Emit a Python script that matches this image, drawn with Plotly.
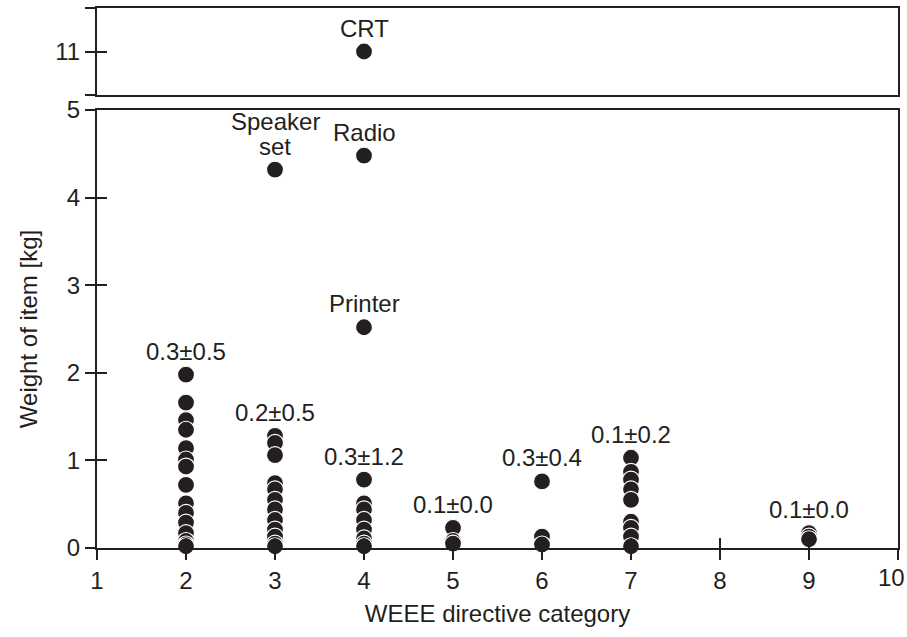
import plotly.graph_objects as go

# ---- data ----
categories = [2, 3, 4, 5, 6, 7, 9]
weights_cat2 = [1.98, 1.66, 1.46, 1.35, 1.14, 1.01, 0.93, 0.72, 0.51, 0.40, 0.29, 0.17, 0.08, 0.04, 0.02]
weights_cat3 = [1.28, 1.20, 1.06, 0.74, 0.67, 0.55, 0.44, 0.32, 0.21, 0.13, 0.05, 0.02]
weights_cat4 = [0.78, 0.51, 0.44, 0.32, 0.21, 0.11, 0.05, 0.02]
weights_cat5 = [0.23, 0.08, 0.05]
weights_cat6 = [0.76, 0.13, 0.04]
weights_cat7 = [1.03, 0.87, 0.78, 0.67, 0.55, 0.30, 0.23, 0.13, 0.02]
weights_cat9 = [0.17, 0.13, 0.10]
stat_labels = ["0.3±0.5", "0.2±0.5", "0.3±1.2", "0.1±0.0", "0.3±0.4", "0.1±0.2", "0.1±0.0"]

outlier_cats = [3, 4, 4]
outlier_weights = [4.32, 4.48, 2.52]
outlier_names = [["Speaker", "set"], ["Radio"], ["Printer"]]
top_cats = [4]
top_weights = [11]
top_names = ["CRT"]

x_ticks = [1, 2, 3, 4, 5, 6, 7, 8, 9, 10]
x_ticktext = ["1", "2", "3", "4", "5", "6", "7", "8", "9", ""]
last_x_label = "10"
y_ticks = [0, 1, 2, 3, 4, 5]

groups = [weights_cat2, weights_cat3, weights_cat4, weights_cat5,
          weights_cat6, weights_cat7, weights_cat9]

INK = "#231f20"
FONT = "Liberation Sans, Arial, sans-serif"
marker = dict(size=17, color=INK, line=dict(color="white", width=1.2))
ANN_FONT = dict(size=24, color=INK, family=FONT)
SHIFT = 8
LINE_STEP = 25

xs, ys = [], []
for c, g in zip(categories, groups):
    xs += [c] * len(g)
    ys += g
xs += outlier_cats
ys += outlier_weights

fig = go.Figure()
fig.add_trace(go.Scatter(x=xs, y=ys, mode="markers", marker=marker,
                         cliponaxis=False, showlegend=False, hoverinfo="skip"))
fig.add_trace(go.Scatter(x=top_cats, y=top_weights, mode="markers", marker=marker,
                         xaxis="x2", yaxis="y2", cliponaxis=False,
                         showlegend=False, hoverinfo="skip"))
# dummy traces to activate overlay axes (inside half of cross ticks)
fig.add_trace(go.Scatter(x=[], y=[], xaxis="x", yaxis="y3", showlegend=False))
fig.add_trace(go.Scatter(x=[], y=[], xaxis="x3", yaxis="y", showlegend=False))
fig.add_trace(go.Scatter(x=[], y=[], xaxis="x2", yaxis="y4", showlegend=False))

ann = []
for c, g, lab in zip(categories, groups, stat_labels):
    ann.append(dict(x=c, y=max(g), xref="x", yref="y", text=lab, showarrow=False,
                    yanchor="bottom", yshift=SHIFT, font=ANN_FONT))
for c, w, lines in zip(outlier_cats, outlier_weights, outlier_names):
    for i, line in enumerate(reversed(lines)):
        ann.append(dict(x=c, y=w, xref="x", yref="y", text=line, showarrow=False,
                        yanchor="bottom", yshift=SHIFT + i * LINE_STEP, font=ANN_FONT))
for c, w, n in zip(top_cats, top_weights, top_names):
    ann.append(dict(x=c, y=w, xref="x2", yref="y2", text=n, showarrow=False,
                    yanchor="bottom", yshift=SHIFT, font=ANN_FONT))
# last x tick label, kept inside the page edge
ann.append(dict(x=x_ticks[-1], y=0, xref="x", yref="y", text=last_x_label, showarrow=False,
                xanchor="right", yanchor="top", xshift=9, yshift=-14,
                font=dict(size=24, color=INK, family=FONT)))

H = 637
ml, mr, mt, mb = 97, 9, 8, 89
ph = H - mt - mb
bot_dom = [0, (548 - 110) / ph]
top_dom = [(548 - 95) / ph, 1]

axline = dict(showline=True, linecolor=INK, linewidth=2, showgrid=False, zeroline=False,
              tickcolor=INK, tickwidth=2, ticklen=10, automargin=False)
tickfont = dict(size=24, color=INK, family=FONT)
titlefont = dict(size=24, color=INK, family=FONT)

fig.update_layout(
    width=907, height=H,
    margin=dict(l=ml, r=mr, t=mt, b=mb),
    paper_bgcolor="white", plot_bgcolor="white",
    font=dict(family=FONT, color=INK),
    showlegend=False,
    annotations=ann,
    xaxis=dict(**axline, range=[1, 10], domain=[0, 1], anchor="y", mirror=True,
               ticks="outside", tickvals=x_ticks, ticktext=x_ticktext, tickfont=tickfont,
               title=dict(text="WEEE directive category", font=titlefont, standoff=12)),
    xaxis3=dict(range=[1, 10], overlaying="x", anchor="y", showline=False, showgrid=False,
                zeroline=False, ticks="inside", tickvals=x_ticks, ticklen=10, tickwidth=2,
                tickcolor=INK, showticklabels=False, automargin=False),
    yaxis=dict(**axline, range=[0, 5], domain=bot_dom, anchor="x", mirror=True,
               ticks="outside", tickvals=y_ticks, tickfont=tickfont,
               title=dict(text="Weight of item [kg]", font=titlefont, standoff=22)),
    yaxis3=dict(range=[0, 5], domain=bot_dom, overlaying="y", anchor="x", showline=False,
                showgrid=False, zeroline=False, ticks="inside", tickvals=y_ticks, ticklen=10,
                tickwidth=2, tickcolor=INK, showticklabels=False, automargin=False),
    xaxis2=dict(showline=True, linecolor=INK, linewidth=2, mirror=True, showgrid=False,
                zeroline=False, range=[1, 10], domain=[0, 1], anchor="y2", ticks="",
                showticklabels=False, automargin=False),
    yaxis2=dict(**axline, range=[10.5, 11.5], domain=top_dom, anchor="x2", mirror=True,
                ticks="outside", tickvals=[10.5, 11, 11.5], ticktext=["", "11", ""],
                tickfont=tickfont),
    yaxis4=dict(range=[10.5, 11.5], domain=top_dom, overlaying="y2", anchor="x2",
                showline=False, showgrid=False, zeroline=False, ticks="inside",
                tickvals=[10.5, 11, 11.5], ticklen=10, tickwidth=2, tickcolor=INK,
                showticklabels=False, automargin=False),
)

fig.write_html("out.html")
